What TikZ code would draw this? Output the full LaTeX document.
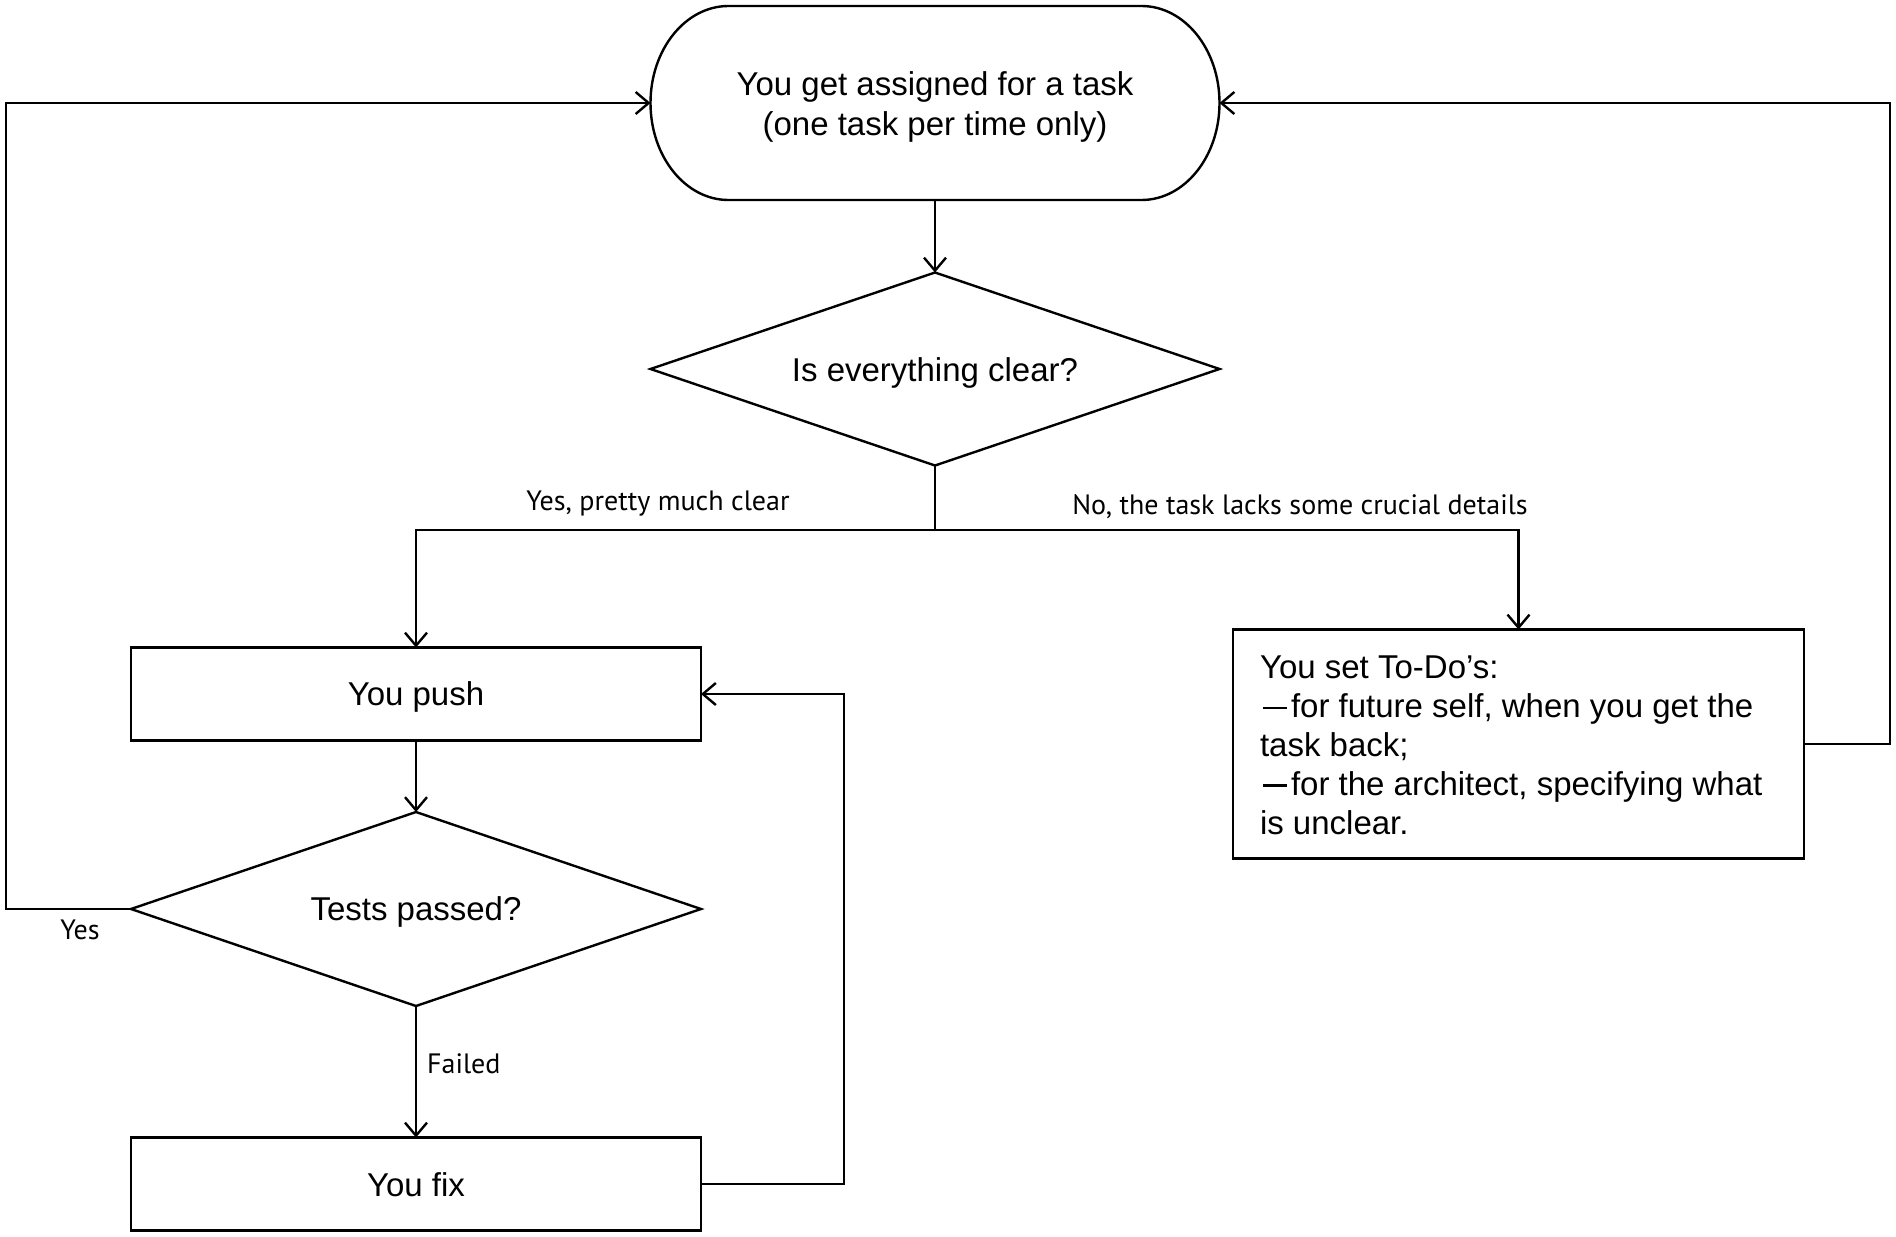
\documentclass[tikz,border=0pt]{standalone}
\usepackage{fontspec}
\setmainfont{Liberation Sans}
\newfontfamily\labelfont{PT Sans}
\usetikzlibrary{arrows.meta}
\newcommand{\tododash}{\hspace*{3pt}\rule[8.5pt]{24pt}{2.7pt}\hspace{4pt}}
\begin{document}
\begin{tikzpicture}[x=1pt,y=-1pt,line width=2.4pt,line join=miter,
  shapebox/.style={rectangle, inner sep=0pt, outer sep=0pt},
  procbox/.style={shapebox, draw, line width=2.4pt, minimum width=570pt, minimum height=93pt},
  txt/.style={inner sep=0pt, font=\fontsize{33}{40}\selectfont, align=center},
  lbl/.style={font=\labelfont\fontsize{28}{32}\selectfont, inner sep=0pt},
  conn/.style={-{Straight Barb[length=13pt,width=22pt,line width=2.4pt]}, line width=2.4pt}
]
\fill[white] (0,0) rectangle (1896,1237);
\useasboundingbox (0,0) rectangle (1896,1237);

% terminal
\node[shapebox, minimum width=569pt, minimum height=194pt] (term) at (935,103) {};
\draw ([xshift=78pt]term.north west) -- ([xshift=-78pt]term.north east)
  arc[start angle=90, end angle=-90, x radius=78pt, y radius=97pt]
  -- ([xshift=78pt]term.south west)
  arc[start angle=270, end angle=90, x radius=78pt, y radius=97pt] -- cycle;
\node[txt] (termt) at ([yshift=-3.5pt]term.center) {You get assigned for a task\\(one task per time only)};

% decision 1
\node[shapebox, minimum width=569pt, minimum height=193pt] (d1) at (935,369) {};
\draw (d1.north) -- (d1.east) -- (d1.south) -- (d1.west) -- cycle;
\node[txt] (d1t) at ([yshift=-3.5pt]d1.center) {Is everything clear?};

% push
\node[procbox] (push) at (416,694) {};
\node[txt] (pusht) at ([yshift=-2.5pt]push.center) {You push};

% decision 2
\node[shapebox, minimum width=570pt, minimum height=194pt] (d2) at (416,909) {};
\draw (d2.north) -- (d2.east) -- (d2.south) -- (d2.west) -- cycle;
\node[txt] (d2t) at ([yshift=-3pt]d2.center) {Tests passed?};

% fix
\node[procbox] (fix) at (416,1184) {};
\node[txt] (fixt) at ([yshift=-1pt]fix.center) {You fix};

% todo
\node[procbox, minimum width=571pt, minimum height=229pt] (todo) at (1518.5,744) {};
\node[txt, align=left, font=\fontsize{33}{39}\selectfont] (todot) at ([yshift=-1.5pt]todo.center)
  {\parbox{517pt}{\raggedright You set To-Do’s:\\\tododash for future self, when you get the\\task back;\\\tododash for the architect, specifying what\\is unclear.}};

\coordinate (j) at (935,530);
\coordinate (lc) at (6,909);
\coordinate (rc) at (1890,744);
\coordinate (fc) at (844,1184);

\draw[conn] (term.south) -- (d1.north);
\draw (d1.south) -- (j);
\draw[conn] (j) -| (push.north);
\draw[conn] (j) -| (todo.north);
\draw[conn] (push.south) -- (d2.north);
\draw[conn] (d2.south) -- (fix.north);
\draw[conn] (d2.west) -- (lc) |- (term.west);
\draw[conn] (todo.east) -- (rc) |- (term.east);
\draw[conn] (fix.east) -- (fc) |- (push.east);

\node[lbl] (l1) at (658,504) {Yes, pretty much clear};
\node[lbl] (l2) at (1300,507) {No, the task lacks some crucial details};
\node[lbl] (l3) at (80,930) {Yes};
\node[lbl, anchor=west] (l4) at (426,1064) {Failed};
\end{tikzpicture}
\end{document}
